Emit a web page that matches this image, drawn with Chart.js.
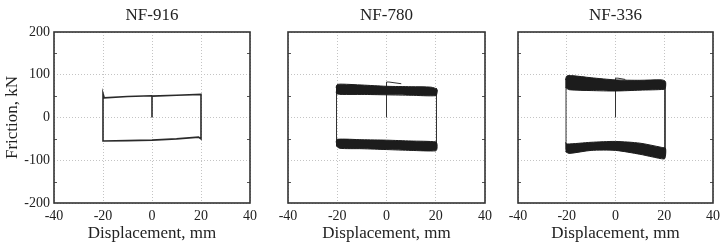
<!DOCTYPE html>
<html><head><meta charset="utf-8">
<script src="https://cdn.jsdelivr.net/npm/chart.js@4.4.1/dist/chart.umd.min.js"></script>
<style>
html,body{margin:0;padding:0;background:#fff;width:725px;height:246px;overflow:hidden}
.p{position:absolute;top:0;height:246px}
</style></head>
<body>
<div class="p" style="left:0px;width:262px"><canvas id="c1" width="262" height="246"></canvas></div>
<div class="p" style="left:262px;width:235px"><canvas id="c2" width="235" height="246"></canvas></div>
<div class="p" style="left:497px;width:228px"><canvas id="c3" width="228" height="246"></canvas></div>
<script>
// ---- data ----
const panelTitles = ['NF-916', 'NF-780', 'NF-336'];
const xTitle = 'Displacement, mm';
const yTitle = 'Friction, kN';
const xTickValues = [-40, -20, 0, 20, 40];
const yTickValues = [-200, -100, 0, 100, 200];
const yMinorTicks = [-150, -50, 50, 150];

// NF-916: single thin loop
const nf916X = [0, 0, 10, 20, 20, 19, 10, 0, -10, -20, -20, -20, -19.5, -10, 0];
const nf916Y = [0, 50, 52, 54, -50, -46, -50, -53, -54, -55, 50, 56, 46, 49, 51];

// NF-780: band outlines (top edge left->right, bottom edge right->left)
const nf780UpperX = [-20.5, -20, -18, -10, 0, 10, 18, 20.5, 20.5, 20, 10, 0, -10, -18, -20, -20.5];
const nf780UpperY = [70, 77, 78, 76, 73, 72, 71, 66, 57, 51, 52, 53, 54, 54, 55, 60];
const nf780LowerX = [-20.5, -20, -10, 0, 10, 20, 20.5, 20.5, 20, 10, 0, -10, -19, -20.5];
const nf780LowerY = [-58, -51, -52, -53, -55, -57, -62, -73, -78, -77, -75, -73, -72, -66];
const nf780ThinX = [0, 0, 1, 6, null, 20.3, 20.3, null, -20.3, -20.3];
const nf780ThinY = [0, 83, 83, 79, null, 68, -72, null, -66, 74];

// NF-336
const nf336UpperX = [-20.5, -20, -18, -10, 0, 10, 19, 20.5, 20.5, 20, 10, 0, -10, -19, -20.5];
const nf336UpperY = [88, 97, 98, 93, 88, 87, 88, 84, 70, 66, 64, 62, 63, 65, 70];
const nf336LowerX = [-20.5, -20, -10, 0, 10, 19, 20.5, 20.5, 20, 15, 10, 0, -10, -19, -20.5];
const nf336LowerY = [-58, -62, -58, -56, -60, -70, -72, -90, -97, -92, -86, -77, -77, -84, -80];
const nf336ThinX = [0, 0, 1, 4, null, 20.3, 20.3, null, -20.3, -20.3];
const nf336ThinY = [0, 92, 92, 89, null, 80, -90, null, -75, 90];

// ---- helpers ----
const pts = (xs, ys) => xs.map((x, i) => (x === null ? {x: NaN, y: null} : {x, y: ys[i]}));
const FONT = "'Liberation Serif','DejaVu Serif',serif";
const INK = '#222';

const framePlugin = {
  id: 'frame',
  afterDraw(chart) {
    const {ctx, chartArea: a, scales} = chart;
    ctx.save();
    ctx.strokeStyle = '#555';
    ctx.lineWidth = 1;
    ctx.beginPath();
    for (const v of yMinorTicks) {
      const y = Math.round(scales.y.getPixelForValue(v)) + 0.5;
      ctx.moveTo(a.left, y); ctx.lineTo(a.left + 3, y);
      ctx.moveTo(a.right, y); ctx.lineTo(a.right - 3, y);
    }
    ctx.stroke();
    ctx.strokeStyle = '#333';
    ctx.lineWidth = 1.6;
    ctx.strokeRect(a.left, a.top, a.right - a.left, a.bottom - a.top);
    ctx.restore();
  }
};

function makeChart(id, title, datasets, leftW, rightW, showY) {
  return new Chart(document.getElementById(id), {
    type: 'scatter',
    data: {datasets},
    plugins: [framePlugin],
    options: {
      responsive: false,
      animation: false,
      events: [],
      layout: {padding: 0},
      plugins: {legend: {display: false}, tooltip: {enabled: false}},
      elements: {point: {radius: 0}},
      scales: {
        x: {
          type: 'linear', position: 'bottom', min: -40, max: 40,
          afterBuildTicks: s => { s.ticks = xTickValues.map(v => ({value: v})); },
          ticks: {color: INK, font: {family: FONT, size: 14}, padding: 5, maxRotation: 0, autoSkip: false},
          grid: {color: '#c4c4c4', lineWidth: 1, drawTicks: false},
          border: {display: false, dash: [1, 2]},
          title: {display: true, text: xTitle, color: INK, font: {family: FONT, size: 17}, padding: {top: 0, bottom: 2}},
          afterFit: s => { s.height = 43; }
        },
        x2: {
          type: 'linear', position: 'top', min: -40, max: 40,
          ticks: {display: false}, grid: {display: false}, border: {display: false},
          title: {display: true, text: title, color: INK, font: {family: FONT, size: 17}, padding: {top: 5, bottom: 0}},
          afterFit: s => { s.height = 32; }
        },
        y: {
          type: 'linear', position: 'left', min: -200, max: 200,
          afterBuildTicks: s => { s.ticks = yTickValues.map(v => ({value: v})); },
          ticks: {display: showY, color: INK, font: {family: FONT, size: 14}, padding: 4},
          grid: {color: '#c4c4c4', lineWidth: 1, drawTicks: false},
          border: {display: false, dash: [1, 2]},
          title: {display: showY, text: yTitle, color: INK, font: {family: FONT, size: 17}, padding: {top: 2, bottom: 0}},
          afterFit: s => { s.width = leftW; }
        },
        y2: {
          type: 'linear', position: 'right', min: -200, max: 200,
          ticks: {display: false}, grid: {display: false}, border: {display: false},
          afterFit: s => { s.width = rightW; }
        }
      }
    }
  });
}

const thin = (xs, ys) => ({data: pts(xs, ys), showLine: true, borderColor: '#333', borderWidth: 1, fill: false, spanGaps: false, tension: 0});
const band = (xs, ys) => ({data: pts(xs, ys), showLine: true, borderColor: '#1c1c1c', borderWidth: 1, backgroundColor: '#1c1c1c', fill: 'shape', tension: 0.25});

makeChart('c1', panelTitles[0], [
  {data: pts(nf916X, nf916Y), showLine: true, borderColor: '#2a2a2a', borderWidth: 1.6, fill: false, tension: 0}
], 54, 9, true);

makeChart('c2', panelTitles[1], [
  band(nf780UpperX, nf780UpperY),
  band(nf780LowerX, nf780LowerY),
  thin(nf780ThinX, nf780ThinY)
], 26, 10, false);

makeChart('c3', panelTitles[2], [
  band(nf336UpperX, nf336UpperY),
  band(nf336LowerX, nf336LowerY),
  thin(nf336ThinX, nf336ThinY)
], 21, 8, false);
</script>
</body></html>
